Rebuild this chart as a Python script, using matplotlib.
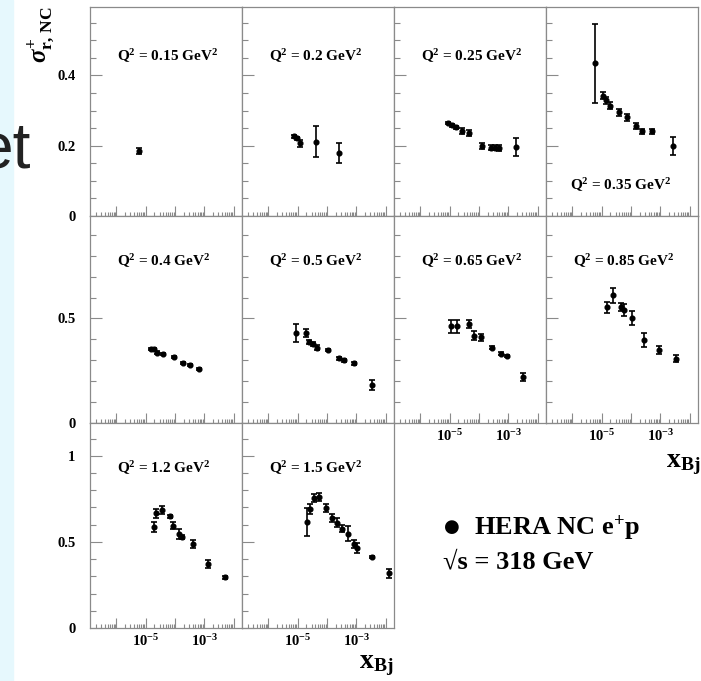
import numpy as np
import matplotlib
matplotlib.use('Agg')
import matplotlib.pyplot as plt
from matplotlib.ticker import LogLocator, MultipleLocator, FuncFormatter, NullFormatter
from matplotlib.patches import Rectangle

plt.rcParams['font.family'] = ['Liberation Serif', 'DejaVu Serif']
plt.rcParams['font.weight'] = 'bold'
plt.rcParams['mathtext.fontset'] = 'custom'
plt.rcParams['mathtext.rm'] = 'Liberation Serif:bold'
plt.rcParams['mathtext.it'] = 'Liberation Serif:italic:bold'
plt.rcParams['mathtext.bf'] = 'Liberation Serif:bold'

# reduced cross sections per Q2 bin
q2_bins = ['0.15', '0.2', '0.25', '0.35', '0.4', '0.5', '0.65', '0.85', '1.2', '1.5']

x_015 = [5.8e-6]
s_015 = [0.185]
e_015 = [0.008]

x_02 = [7.3e-6, 9.3e-6, 1.23e-5, 4.2e-5, 2.6e-4]
s_02 = [0.227, 0.221, 0.207, 0.211, 0.179]
e_02 = [0.004, 0.005, 0.010, 0.044, 0.028]

x_025 = [9.1e-6, 1.2e-5, 1.64e-5, 2.64e-5, 4.57e-5, 1.27e-4, 2.58e-4, 3.5e-4, 4.8e-4, 1.84e-3]
s_025 = [0.265, 0.258, 0.252, 0.242, 0.236, 0.199, 0.195, 0.195, 0.194, 0.197]
e_025 = [0.004, 0.004, 0.005, 0.008, 0.009, 0.008, 0.007, 0.007, 0.008, 0.025]

x_035 = [5.9e-6, 1.14e-5, 1.37e-5, 1.92e-5, 3.9e-5, 7.5e-5, 1.45e-4, 2.44e-4, 5.3e-4, 2.8e-3]
s_035 = [0.435, 0.343, 0.329, 0.314, 0.295, 0.281, 0.257, 0.241, 0.241, 0.200]
e_035 = [0.112, 0.010, 0.010, 0.010, 0.010, 0.010, 0.008, 0.008, 0.008, 0.025]

x_04 = [1.49e-5, 1.92e-5, 2.5e-5, 4.0e-5, 9.3e-5, 1.92e-4, 3.26e-4, 6.8e-4]
s_04 = [0.356, 0.353, 0.337, 0.329, 0.317, 0.285, 0.276, 0.260]
e_04 = [0.005, 0.005, 0.005, 0.005, 0.005, 0.005, 0.005, 0.005]

x_05 = [8.8e-6, 1.88e-5, 2.44e-5, 3.26e-5, 4.68e-5, 1.11e-4, 2.64e-4, 3.9e-4, 8.6e-4, 3.5e-3]
s_05 = [0.430, 0.430, 0.389, 0.377, 0.361, 0.348, 0.309, 0.300, 0.285, 0.181]
e_05 = [0.044, 0.020, 0.010, 0.010, 0.012, 0.006, 0.006, 0.006, 0.006, 0.025]

x_065 = [1.11e-5, 1.82e-5, 4.57e-5, 7.0e-5, 1.15e-4, 2.85e-4, 5.5e-4, 8.85e-4, 3.26e-3]
s_065 = [0.462, 0.462, 0.474, 0.417, 0.409, 0.361, 0.332, 0.321, 0.221]
e_065 = [0.030, 0.030, 0.020, 0.022, 0.015, 0.006, 0.006, 0.006, 0.018]

x_085 = [1.49e-5, 2.38e-5, 4.47e-5, 5.8e-5, 1.11e-4, 2.79e-4, 9.1e-4, 3.44e-3]
s_085 = [0.553, 0.612, 0.556, 0.540, 0.502, 0.396, 0.348, 0.308]
e_085 = [0.027, 0.036, 0.020, 0.028, 0.034, 0.034, 0.020, 0.018]

x_12 = [1.92e-5, 2.25e-5, 3.7e-5, 6.8e-5, 8.8e-5, 1.41e-4, 1.7e-4, 4.2e-4, 1.37e-3, 5.2e-3]
s_12 = [0.587, 0.667, 0.683, 0.648, 0.594, 0.548, 0.529, 0.487, 0.369, 0.294]
e_12 = [0.030, 0.026, 0.023, 0.010, 0.022, 0.029, 0.012, 0.023, 0.023, 0.008]

x_15 = [2.13e-5, 2.64e-5, 3.6e-5, 5.5e-5, 9.1e-5, 1.45e-4, 2.15e-4, 3.33e-4, 5.1e-4,
        8.4e-4, 1.04e-3, 3.36e-3, 1.34e-2]
s_15 = [0.615, 0.692, 0.756, 0.760, 0.698, 0.640, 0.612, 0.577, 0.548, 0.487, 0.462, 0.410, 0.317]
e_15 = [0.080, 0.030, 0.024, 0.023, 0.024, 0.024, 0.024, 0.021, 0.045, 0.024, 0.029, 0.006, 0.024]

data = [(x_015, s_015, e_015), (x_02, s_02, e_02), (x_025, s_025, e_025),
        (x_035, s_035, e_035), (x_04, s_04, e_04), (x_05, s_05, e_05),
        (x_065, s_065, e_065), (x_085, s_085, e_085), (x_12, s_12, e_12),
        (x_15, s_15, e_15)]

W, H = 701, 681
frame_col = '#8a8a8a'


def fx(px):
    return px / W


def fy(py):
    return 1 - py / H


def xfmt(v, pos):
    e = int(round(np.log10(v)))
    if e in (-5, -3):
        return r'$\mathregular{10^{%d}}$' % e
    return ''


fig = plt.figure(figsize=(W / 100, H / 100), dpi=100)

# slide background strip + leftover slide text
fig.patches.append(Rectangle((0, 0), fx(13), 1, transform=fig.transFigure,
                             color='#e6f8fd', zorder=0))
fig.text(fx(31), fy(167), 'et', ha='right', va='baseline', fontsize=46,
         family='Liberation Sans', weight='normal', color='#222222')

col_left = [90, 242, 394, 546]
row_top = [7, 216, 423]
row_bot = [216, 423, 628]
row_ylim = [0.595, 0.99, 1.19]
row_major = [0.2, 0.5, 0.5]
row_minor = [0.05, 0.1, 0.1]

for ii, (q2, (xv, sv, ev)) in enumerate(zip(q2_bins, data)):
    r, c = divmod(ii, 4)
    ax = fig.add_axes([fx(col_left[c]), fy(row_bot[r]), 152 / W,
                       (row_bot[r] - row_top[r]) / H])
    ax.errorbar(xv, sv, yerr=ev, fmt='o', color='k', ms=3.4, capsize=2.2,
                elinewidth=1.2, capthick=1.2)
    ax.set_xscale('log')
    ax.set_xlim(10 ** -6.9, 10 ** -1.71)
    ax.set_ylim(0, row_ylim[r])
    ax.xaxis.set_major_locator(LogLocator(base=10, numticks=12))
    ax.xaxis.set_minor_locator(LogLocator(base=10, subs=np.arange(2, 10), numticks=12))
    ax.xaxis.set_minor_formatter(NullFormatter())
    ax.yaxis.set_major_locator(MultipleLocator(row_major[r]))
    ax.yaxis.set_minor_locator(MultipleLocator(row_minor[r]))
    ax.tick_params(which='both', direction='in', top=False, right=False,
                   color=frame_col, labelsize=10.5)
    ax.tick_params(axis='x', which='major', length=7, width=0.8, pad=4)
    ax.tick_params(axis='x', which='minor', length=2.6, width=0.8)
    ax.tick_params(axis='y', which='major', length=8.5, width=0.8, pad=10.5)
    ax.tick_params(axis='y', which='minor', length=4.6, width=0.8)
    for sp in ax.spines.values():
        sp.set_color(frame_col)
        sp.set_linewidth(0.9)
    if c == 0:
        ax.yaxis.set_major_formatter(FuncFormatter(lambda v, p: '%g' % v))
    else:
        ax.set_yticklabels([])
    if ii in (6, 7, 8, 9):
        ax.xaxis.set_major_formatter(FuncFormatter(xfmt))
    else:
        ax.set_xticklabels([])
    label = r'Q$^{2}$ = %s GeV$^{2}$' % q2
    if q2 == '0.35':
        ax.text(24 / 152, 1 - 178 / (row_bot[r] - row_top[r]), label,
                transform=ax.transAxes, ha='left', va='center', fontsize=11)
    else:
        ty = 49 if r == 0 else 45
        ax.text(27 / 152, 1 - ty / (row_bot[r] - row_top[r]), label,
                transform=ax.transAxes, ha='left', va='center', fontsize=11)

# axis titles
fig.text(fx(41), fy(6), r'$\sigma^{+}_{\mathrm{r,\,NC}}$', rotation=90,
         ha='center', va='top', fontsize=18)
fig.text(fx(393), fy(668), r'$\mathregular{x_{Bj}}$', ha='right',
         va='baseline', fontsize=20)
fig.text(fx(700), fy(467), r'$\mathregular{x_{Bj}}$', ha='right',
         va='baseline', fontsize=20)

# legend
fig.text(fx(452), fy(527), '●', ha='center', va='center', fontsize=13,
         family='DejaVu Sans', color='k')
fig.text(fx(474), fy(535), r'HERA NC e$^{+}$p', ha='left', va='baseline',
         fontsize=19)
fig.text(fx(443), fy(568), '√s = 318 GeV', ha='left', va='baseline',
         fontsize=19)

fig.savefig('out.png', dpi=100)
